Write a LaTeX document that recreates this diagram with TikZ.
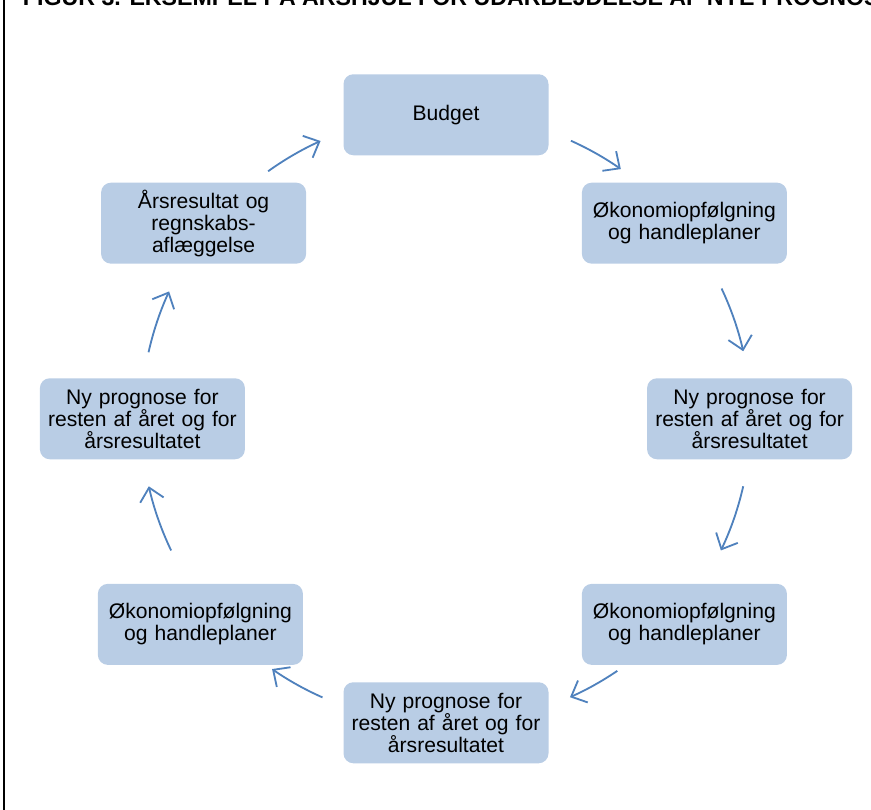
\documentclass[tikz,border=0pt]{standalone}
\usepackage{fontspec}
\setmainfont{Liberation Sans}
\usepackage{xcolor}
\usetikzlibrary{shapes,arrows,arrows.meta,positioning}
\definecolor{boxblue}{RGB}{185,205,229}
\definecolor{arcblue}{RGB}{79,129,189}

\begin{document}
\begin{tikzpicture}[
  phase/.style={rectangle, rounded corners=7pt, draw=none,
                fill=boxblue, text width=48mm, minimum width=51.25mm,
                minimum height=20.25mm, align=center,
                font=\fontsize{15}{15.6}\selectfont},
  cyc/.style={-{Straight Barb[length=3.2mm, width=6mm]}, line width=1.3pt, arcblue},
  title/.style={anchor=base west, font=\fontsize{16.5}{18}\selectfont\bfseries}
]
\useasboundingbox (-11.15,-9.756) rectangle (10.625,10.469);
\begin{scope}
\clip (-11.15,-9.756) rectangle (10.625,10.469);
\node[title] (caption) at (-10.7,10.33) {FIGUR 3. EKSEMPEL PÅ ÅRSHJUL FOR UDARBEJDELSE AF NYE PROGNOSER};
\draw[line width=0.8pt] (-11.05,-9.9) -- (-11.05,10.6);
\end{scope}

\coordinate (c) at (0,0);
\node[phase] (budget) at (0,7.6) {Budget};
\node[phase] (oko1) at (5.96,4.89) {Økonomiopfølgning\\og handleplaner};
\node[phase] (ny1) at (7.59,0) {Ny prognose for\\resten af året og for\\årsresultatet};
\node[phase] (oko2) at (5.96,-5.14) {Økonomiopfølgning\\og handleplaner};
\node[phase] (ny2) at (0,-7.6) {Ny prognose for\\resten af året og for\\årsresultatet};
\node[phase] (oko3) at (-6.14,-5.14) {Økonomiopfølgning\\og handleplaner};
\node[phase] (ny3) at (-7.59,0) {Ny prognose for\\resten af året og for\\årsresultatet};
\node[phase] (aars) at (-6.06,4.89) {Årsresultat og\\regnskabs-\\aflæggelse};

% arcs of the cycle
\draw[cyc] ([shift={(65.8:7.62)}]c) arc[start angle=65.8, end angle=55, radius=7.62];
\draw[cyc] ([shift={(25.3:7.62)}]c) arc[start angle=25.3, end angle=12.8, radius=7.62];
\draw[cyc] ([shift={(-12.8:7.62)}]c) arc[start angle=-12.8, end angle=-25.6, radius=7.62];
\draw[cyc] ([shift={(-55.8:7.62)}]c) arc[start angle=-55.8, end angle=-66, radius=7.62];
\draw[cyc] ([shift={(-113.9:7.62)}]c) arc[start angle=-113.9, end angle=-124.8, radius=7.62];
\draw[cyc] ([shift={(205.6:7.62)}]c) arc[start angle=205.6, end angle=192.8, radius=7.62];
\draw[cyc] ([shift={(167.4:7.62)}]c) arc[start angle=167.4, end angle=155.3, radius=7.62];
\draw[cyc] ([shift={(125.7:7.62)}]c) arc[start angle=125.7, end angle=114.3, radius=7.62];
\end{tikzpicture}
\end{document}
